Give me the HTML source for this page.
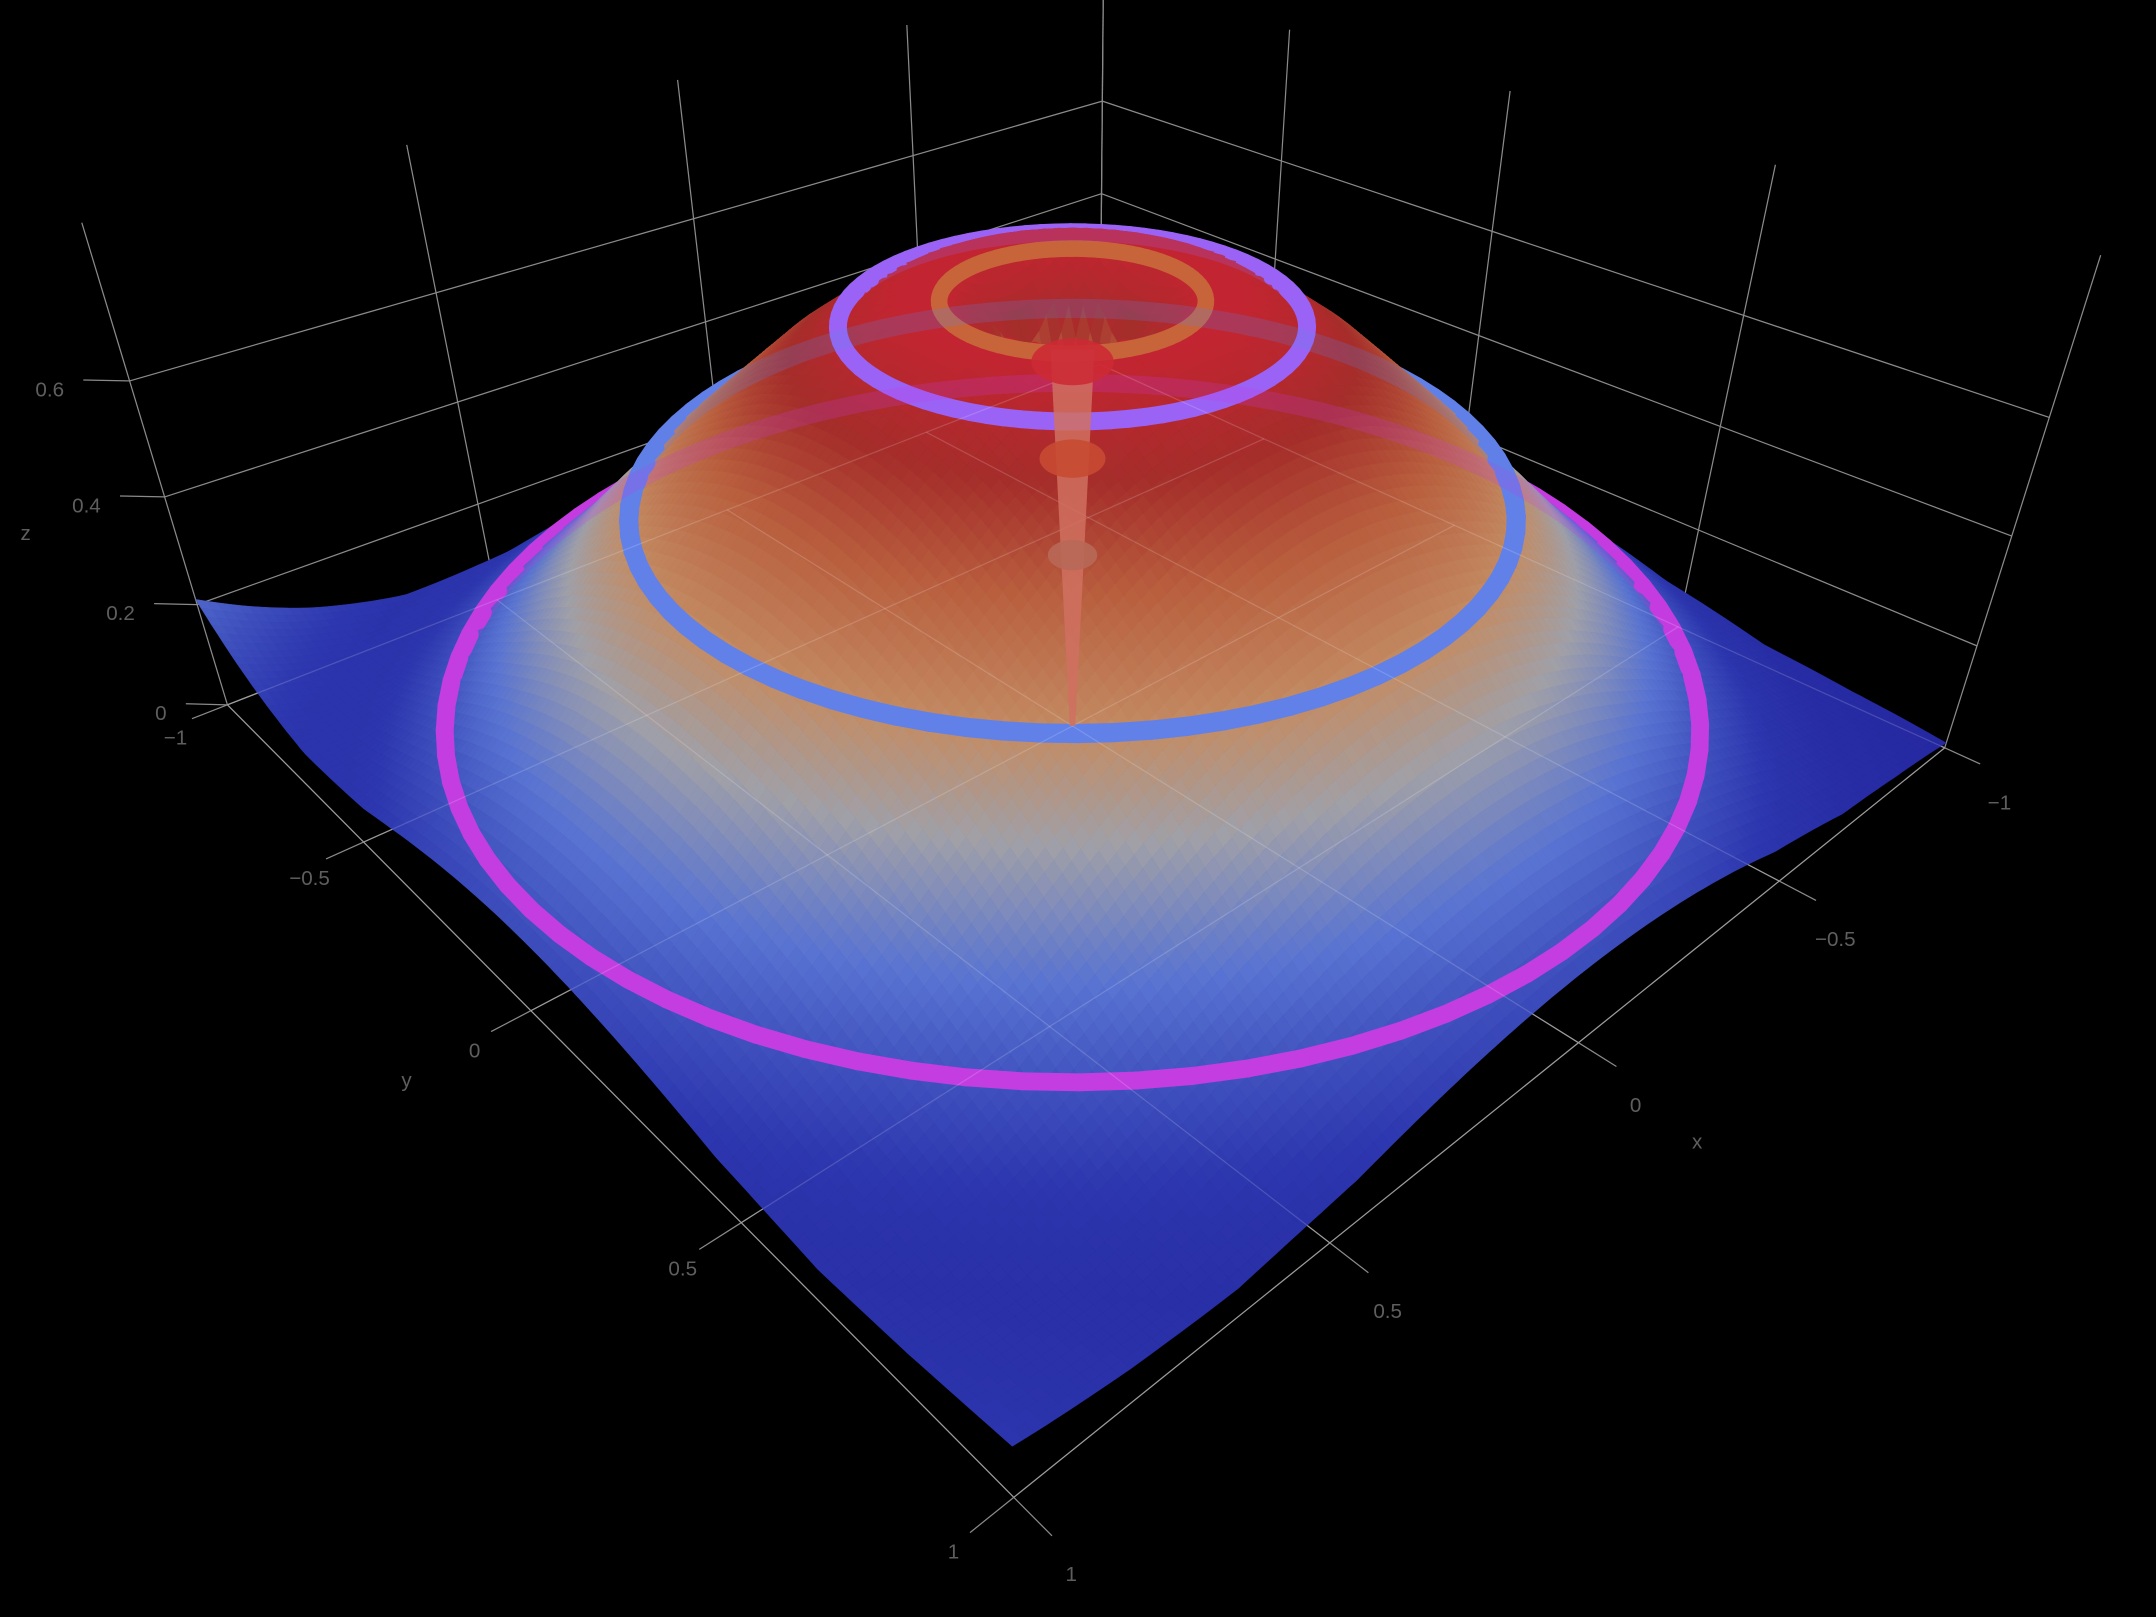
<!DOCTYPE html>
<html><head><meta charset="utf-8"><title>3D surface with rings</title>
<style>
html,body{margin:0;padding:0;background:#000;}
svg{display:block;}
text{font-family:"Liberation Sans",sans-serif;fill:#5e5e5e;}
</style></head>
<body>
<svg id="chart" width="2156" height="1617" viewBox="0 0 1568 1176" xmlns="http://www.w3.org/2000/svg">
<rect x="0" y="0" width="1568" height="1176" fill="#000"/>
<g id="walls"></g>
<g id="surface"></g>
<g id="ghost"></g>
<g id="floorgrid"></g>
<g id="stem"></g>
<g id="labels"></g>
</svg>
<script>
// ---- data ----
const xTicks = [-1, -0.5, 0, 0.5, 1];
const yTicks = [-1, -0.5, 0, 0.5, 1];
const zTicks = [0, 0.2, 0.4, 0.6];
const xTickLabels = ["\u22121", "\u22120.5", "0", "0.5", "1"];
const yTickLabels = ["\u22121", "\u22120.5", "0", "0.5", "1"];
const zTickLabels = ["0", "0.2", "0.4", "0.6"];
const profileR = [0, 0.06, 0.12, 0.18, 0.25, 0.34, 0.45, 0.55, 0.66, 0.75, 0.85, 0.97, 1.1, 1.2, 1.3, 1.42, 1.6];
const profileZ = [0.0, 0.44, 0.70, 0.77, 0.77, 0.73, 0.65, 0.56, 0.46, 0.37, 0.27, 0.165, 0.08, 0.045, 0.04, 0.04, 0.04];
// surface heights at the four corners: (-1,-1), (1,-1), (-1,1), (1,1)
const cornerHeight = [0.05, 0.21, 0.01, 0.09];
const ringRadius = [0.97, 0.66, 0.335, 0.19];
const ringHeight = [0.165, 0.46, 0.73, 0.76];
const ringColor = ["#c43de0", "#6181e8", "#9b63f5", "#c8643a"];
const ringWidth = [13, 14, 13, 12];
const ringName = ["ring-outer-magenta", "ring-blue", "ring-purple", "ring-inner-orange"];
const wallTop = [0.85];

// ---- projection ----
const ZS = 0.98, DIST = 3.2, PHI = 35 * Math.PI / 180, AZ = 47.5 * Math.PI / 180, FOC = 1414, CX = 780, CY = 528;
const EYE = [DIST * Math.cos(PHI) * Math.cos(AZ), DIST * Math.cos(PHI) * Math.sin(AZ), DIST * Math.sin(PHI)];
const FW = [-EYE[0] / DIST, -EYE[1] / DIST, -EYE[2] / DIST];
const RT = [-Math.sin(AZ), Math.cos(AZ), 0];
const UPV = [RT[1] * FW[2] - RT[2] * FW[1], RT[2] * FW[0] - RT[0] * FW[2], RT[0] * FW[1] - RT[1] * FW[0]];
function proj(x, y, z) {
  const d = [x - EYE[0], y - EYE[1], z * ZS - EYE[2]];
  const xc = d[0] * RT[0] + d[1] * RT[1] + d[2] * RT[2];
  const yc = d[0] * UPV[0] + d[1] * UPV[1] + d[2] * UPV[2];
  const zc = d[0] * FW[0] + d[1] * FW[1] + d[2] * FW[2];
  return [CX + FOC * xc / zc, CY - FOC * yc / zc, zc];
}
function radial(r) {
  for (let i = 1; i < profileR.length; i++) {
    if (r <= profileR[i]) {
      const t = (r - profileR[i - 1]) / (profileR[i] - profileR[i - 1]);
      return profileZ[i - 1] + t * (profileZ[i] - profileZ[i - 1]);
    }
  }
  return profileZ[profileZ.length - 1];
}
function surfZ(x, y) {
  const r = Math.hypot(x, y);
  const u = (x + 1) / 2, v = (y + 1) / 2;
  const bil = cornerHeight[0] * (1 - u) * (1 - v) + cornerHeight[1] * u * (1 - v) + cornerHeight[2] * (1 - u) * v + cornerHeight[3] * u * v;
  const w = Math.min(1, Math.max(0, (r - 1.0) / 0.414));
  return radial(r) + w * w * (bil - profileZ[profileZ.length - 3]);
}
const stops = [[0, [36, 38, 158]], [0.1, [45, 55, 175]], [0.24, [88, 115, 210]], [0.36, [160, 160, 168]], [0.46, [195, 140, 100]], [0.58, [185, 95, 62]], [0.68, [165, 45, 42]], [0.79, [200, 35, 50]]];
function color(z) {
  if (z <= stops[0][0]) return stops[0][1];
  for (let i = 1; i < stops.length; i++) {
    if (z <= stops[i][0]) {
      const t = (z - stops[i - 1][0]) / (stops[i][0] - stops[i - 1][0]);
      return stops[i - 1][1].map((c, k) => Math.round(c + t * (stops[i][1][k] - c)));
    }
  }
  return stops[stops.length - 1][1];
}
const SVGNS = "http://www.w3.org/2000/svg";
function mk(tag, attrs, parent) {
  const e = document.createElementNS(SVGNS, tag);
  for (const k in attrs) e.setAttribute(k, attrs[k]);
  parent.appendChild(e);
  return e;
}
function line3(p, q, g, stroke, w) {
  const a = proj(p[0], p[1], p[2]), b = proj(q[0], q[1], q[2]);
  return mk("line", { x1: a[0], y1: a[1], x2: b[0], y2: b[1], stroke: stroke, "stroke-width": w }, g);
}
// ---- back walls ----
const wallsG = document.getElementById("walls");
const gcol = "#8a8a8a";
xTicks.forEach(x => { const l = line3([x, -1, 0], [x, -1, wallTop[0]], wallsG, gcol, 0.9);   });
yTicks.forEach(y => { const l = line3([-1, y, 0], [-1, y, wallTop[0]], wallsG, gcol, 0.9);   });
zTicks.forEach(z => {
  const l1 = line3([1, -1, z], [-1, -1, z], wallsG, gcol, 0.9);
  
  
  const l2 = line3([-1, -1, z], [-1, 1, z], wallsG, gcol, 0.9);
  
  
});
xTicks.forEach(x => { const l = line3([x, -1, 0], [x, 1, 0], wallsG, gcol, 0.9);   });
yTicks.forEach(y => { const l = line3([-1, y, 0], [1, y, 0], wallsG, gcol, 0.9);   });
// ---- surface + rings (depth sorted) ----
const surfG = document.getElementById("surface");
const NG = 130, items = [];
for (let i = 0; i < NG; i++) for (let j = 0; j < NG; j++) {
  const x0 = -1 + 2 * i / NG, x1 = -1 + 2 * (i + 1) / NG, y0 = -1 + 2 * j / NG, y1 = -1 + 2 * (j + 1) / NG;
  const pts = [[x0, y0], [x1, y0], [x1, y1], [x0, y1]].map(p => proj(p[0], p[1], surfZ(p[0], p[1])));
  const zc = (pts[0][2] + pts[1][2] + pts[2][2] + pts[3][2]) / 4;
  const zm = surfZ((x0 + x1) / 2, (y0 + y1) / 2);
  items.push({ kind: 0, pts: pts, zc: zc, zm: zm });
}
ringRadius.forEach((r, k) => {
  for (let a = 0; a < 360; a += 4) {
    const t0 = a * Math.PI / 180, t1 = (a + 4) * Math.PI / 180;
    const p0 = proj(r * Math.cos(t0), r * Math.sin(t0), ringHeight[k]);
    const p1 = proj(r * Math.cos(t1), r * Math.sin(t1), ringHeight[k]);
    items.push({ kind: 1, k: k, pts: [p0, p1], zc: (p0[2] + p1[2]) / 2 - 0.06 });
  }
});
items.sort((a, b) => b.zc - a.zc);
items.forEach(q => {
  if (q.kind === 0) {
    const c = color(q.zm), fill = "rgb(" + c[0] + "," + c[1] + "," + c[2] + ")";
    const p = mk("polygon", { points: q.pts.map(t => t[0].toFixed(1) + "," + t[1].toFixed(1)).join(" "), fill: fill, stroke: fill, "stroke-width": 0.35, "stroke-linejoin": "round" }, surfG);
    
    
  } else {
    const s = mk("line", { x1: q.pts[0][0], y1: q.pts[0][1], x2: q.pts[1][0], y2: q.pts[1][1], stroke: ringColor[q.k], "stroke-width": ringWidth[q.k], "stroke-linecap": "round" }, surfG);
    
    
  }
});
// translucent dome: far arcs of rings faintly visible through it
const ghostG = document.getElementById("ghost");
ringRadius.forEach((r, k) => {
  const cz = proj(0, 0, ringHeight[k])[2];
  const pts = [];
  for (let a = 0; a <= 360; a += 3) {
    const t = a * Math.PI / 180;
    const p = proj(r * Math.cos(t), r * Math.sin(t), ringHeight[k]);
    if (p[2] > cz) pts.push(p[0].toFixed(1) + "," + p[1].toFixed(1));
  }
  const g = mk("polyline", { points: pts.join(" "), fill: "none", stroke: ringColor[k], "stroke-width": ringWidth[k], opacity: 0.22 }, ghostG);
  
  
});
const fgG = document.getElementById("floorgrid");
xTicks.forEach(x => { const l = line3([x, -1, 0], [x, 1, 0], fgG, "rgba(255,255,255,0.16)", 0.9);   });
yTicks.forEach(y => { const l = line3([-1, y, 0], [1, y, 0], fgG, "rgba(255,255,255,0.16)", 0.9);   });
// ---- funnel ----
const stemG = document.getElementById("stem");
const funnelTop = proj(0, 0, 0.68), funnelBot = proj(0, 0, 0.0);
const funnel = mk("polygon", { points: (funnelTop[0] - 16) + "," + funnelTop[1] + " " + (funnelTop[0] + 16) + "," + funnelTop[1] + " " + (funnelBot[0] + 2) + "," + funnelBot[1] + " " + (funnelBot[0] - 2) + "," + funnelBot[1], fill: "#d07060", opacity: 0.85 }, stemG);


[0.33, 0.5, 0.66].forEach((z, k) => {
  const p = proj(0, 0, z);
  const e = mk("ellipse", { cx: p[0], cy: p[1], rx: 18 + 6 * k, ry: 11 + 3 * k, fill: ["#b86858", "#c84a32", "#cc2a35"][k], opacity: 0.9 }, stemG);
  
  
});
// ---- labels ----
const labG = document.getElementById("labels");
function txt(p, s, name, anchor) {
  const t = mk("text", { x: p[0], y: p[1], "font-size": 15, "text-anchor": anchor || "middle", "dominant-baseline": "middle" }, labG);
  t.textContent = s;
  
  
  return t;
}
yTicks.forEach((y, i) => {
  const a = proj(1, y, 0), b = proj(1.06, y, 0);
  const l = mk("line", { x1: a[0], y1: a[1], x2: b[0], y2: b[1], stroke: gcol, "stroke-width": 0.9 }, labG);
  
  
  txt([b[0] - 12, b[1] + 15], yTickLabels[i], 'y-tick-label');
});
xTicks.forEach((x, i) => {
  const a = proj(x, 1, 0), b = proj(x, 1.06, 0);
  const l = mk("line", { x1: a[0], y1: a[1], x2: b[0], y2: b[1], stroke: gcol, "stroke-width": 0.9 }, labG);
  
  
  txt([b[0] + 14, b[1] + 29], xTickLabels[i], 'x-tick-label');
});
zTicks.forEach((z, i) => {
  const a = proj(1, -1, z), b = proj(1.05, -1.05, z);
  const l = mk("line", { x1: a[0], y1: a[1], x2: b[0], y2: b[1], stroke: gcol, "stroke-width": 0.9 }, labG);
  
  
  txt([b[0] - 14, b[1] + 8], zTickLabels[i], 'z-tick-label', "end");
});
const yt = proj(1.06, 0.05, 0);
txt([yt[0] - 75, yt[1] + 22], "y", 'y-axis-title');
const xt = proj(0.05, 1.06, 0);
txt([xt[0] + 75, xt[1] + 42], "x", 'x-axis-title');
const ztPos = proj(1.05, -1.05, 0.35);
txt([ztPos[0] - 75, ztPos[1] + 8], "z", 'z-axis-title');
</script>
</body></html>
